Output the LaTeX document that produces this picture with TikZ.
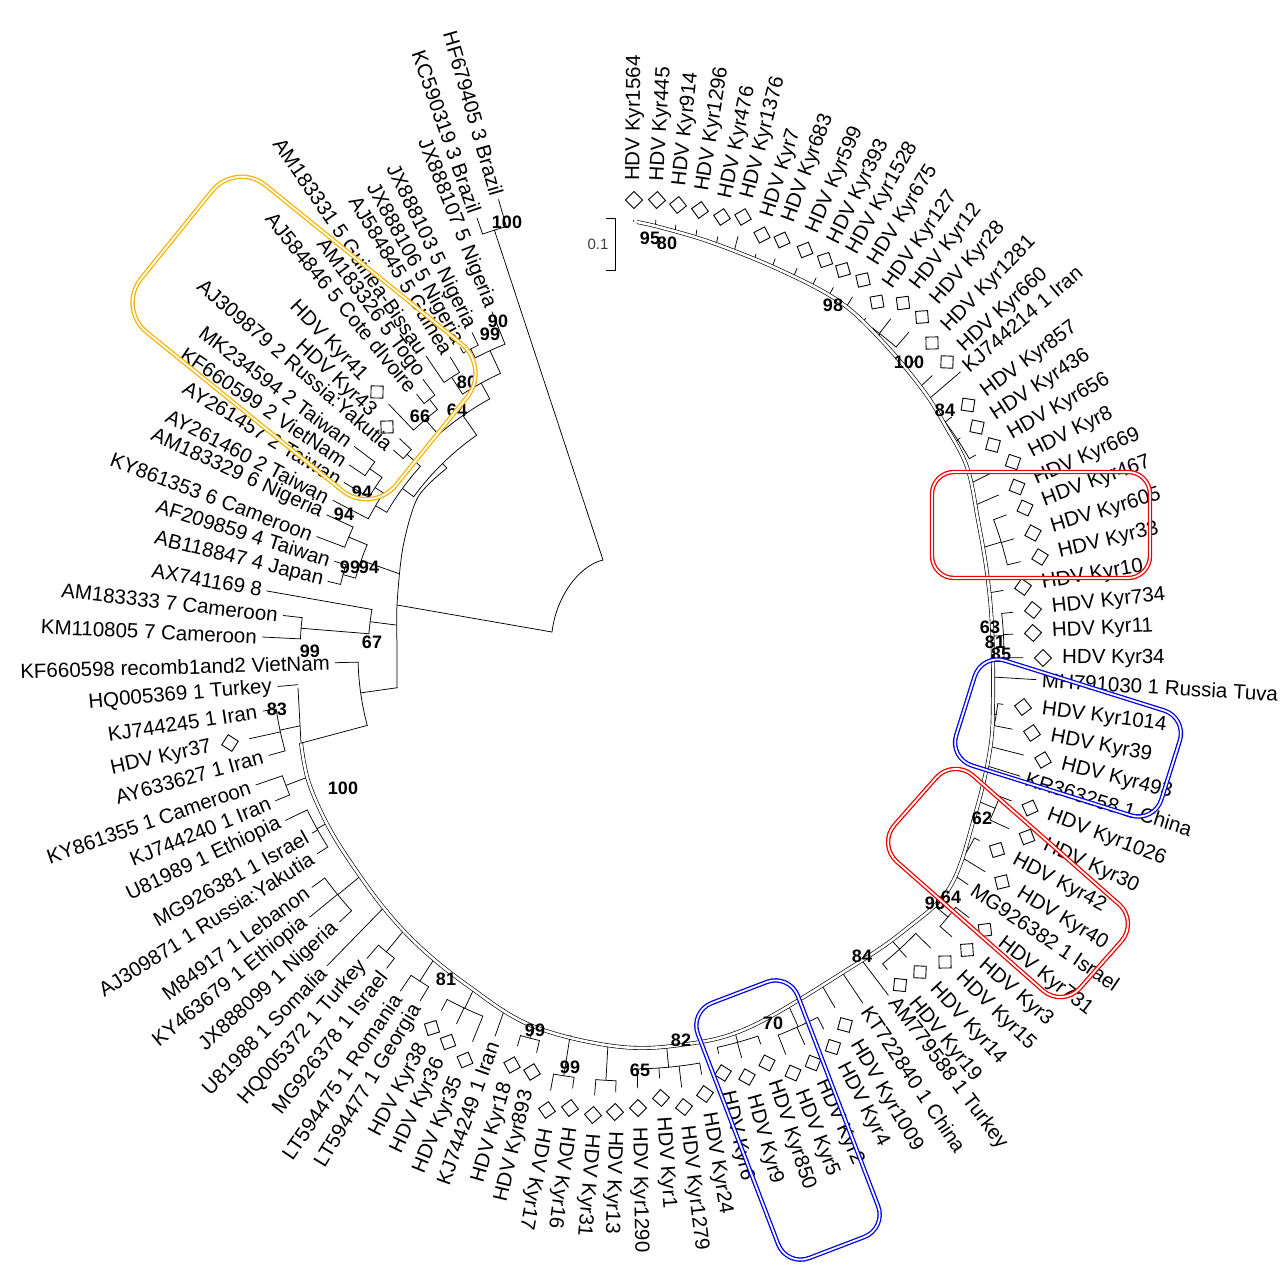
\documentclass[tikz,border=0pt]{standalone}
\usepackage{fontspec}
\setmainfont{Liberation Sans}
\usetikzlibrary{calc,intersections}
\definecolor{boxyellow}{RGB}{244,180,0}
\definecolor{boxred}{RGB}{238,0,0}
\definecolor{boxblue}{RGB}{0,0,230}
\newcounter{lc}
\newcommand\placeLabel[3]{%
  \pgfmathsetmacro\side{(#1>-101.5)&&(#1<95)}%
  \ifdim\side pt>0.5pt
    \node[lbl,anchor=west,rotate=#1] (n\thelc) at ($(C)+(#1:#2 pt)$) {#3};%
  \else
    \pgfmathsetmacro\rot{#1-180}%
    \node[lbl,anchor=east,rotate=\rot] (n\thelc) at ($(C)+(#1:#2 pt)$) {#3};%
  \fi}
\newcommand\keepleaf{%
  \expandafter\xdef\csname la\thelc\endcsname{\ang}%
  \expandafter\xdef\csname lt\thelc\endcsname{\rt}}
\newcommand\leafD[3]{%
  \stepcounter{lc}%
  \pgfmathsetmacro\dx{#1-630}\pgfmathsetmacro\dy{655-#2}%
  \pgfmathsetmacro\ang{atan2(\dy,\dx)}%
  \pgfmathsetmacro\rr{veclen(\dx,\dy)}%
  \pgfmathsetmacro\rl{\rr+19}\pgfmathsetmacro\rt{\rr-20}%
  \pgfmathsetmacro\dang{\ang+45}%
  \node[dia,rotate=\dang] (d\thelc) at (#1,#2) {};%
  \placeLabel{\ang}{\rl}{#3}%
  \keepleaf
  \coordinate (tp) at ($(C)+(\ang:\rt pt)$);}
\newcommand\leafT[3]{%
  \stepcounter{lc}%
  \pgfmathsetmacro\dx{#1-630}\pgfmathsetmacro\dy{655-#2}%
  \pgfmathsetmacro\ang{atan2(\dy,\dx)}%
  \pgfmathsetmacro\rr{veclen(\dx,\dy)}%
  \pgfmathsetmacro\rt{\rr-6}%
  \placeLabel{\ang}{\rr}{#3}%
  \keepleaf
  \coordinate (tp) at ($(C)+(\ang:\rt pt)$);}
\newcommand\stub{%
  \path[name path=ray] (C) -- ($(C)+(\ang:800pt)$);%
  \path[name intersections={of=ray and bbone, by={ip}}];%
  \draw[br] (tp) -- (ip);}
% group of genotype-1 leaves joined by an arc at radius #3
\newcommand\grp[3]{%
  \foreach \k in {#1,...,#2}{%
    \edef\ka{\csname la\k\endcsname}\edef\kt{\csname lt\k\endcsname}%
    \draw[br] ($(C)+(\ka:\kt pt)$) -- ($(C)+(\ka:#3 pt)$);}%
  \edef\aa{\csname la#1\endcsname}\edef\ab{\csname la#2\endcsname}%
  \draw[br] ($(C)+(\aa:#3 pt)$) arc[start angle=\aa, end angle=\ab, radius=#3 pt];%
  \pgfmathsetmacro\am{(\aa+\ab)/2}%
  \path[name path=ray] (C) -- ($(C)+(\am:800pt)$);%
  \path[name intersections={of=ray and bbone, by={ip}}];%
  \draw[br] ($(C)+(\am:#3 pt)$) -- (ip);}
\newcommand\parc[3]{\draw[br] ($(C)+(#2:#1 pt)$) arc[start angle=#2, end angle=#3, radius=#1 pt];}
\newcommand\prad[3]{\draw[br] ($(C)+(#1:#2 pt)$) -- ($(C)+(#1:#3 pt)$);}
\begin{document}
\begin{tikzpicture}[x=1pt,y=-1pt,
  br/.style={line width=0.75pt, line cap=round},
  lbl/.style={font=\fontsize{20.5}{20.5}\selectfont, inner sep=0pt},
  dia/.style={draw, line width=0.9pt, minimum size=12pt, inner sep=0pt},
  bs/.style={font=\bfseries\fontsize{18}{18}\selectfont, inner sep=0pt},
  hbox/.style={double=white, double distance=1.8pt, line width=1.3pt, inner sep=0pt},
  bbline/.style={line width=0.65pt, double=white, double distance=2.6pt}]
\useasboundingbox (0,0) rectangle (1286,1271);
\fill[white] (0,0) rectangle (1286,1271);
\coordinate (C) at (630,655);
\path[name path=bbone] (296,640) -- (298,688) -- (301,743) -- (308,780) -- (325,820) -- (347,857) -- (383,907) -- (420,947) -- (467,985) -- (530,1025) -- (613,1046) -- (680,1045) -- (750,1027) -- (850,968) -- (905,930) -- (950,887) -- (975,815) -- (990,750) -- (993,700) -- (992,627) -- (987,573) -- (978,520) -- (967,467) -- (945,425) -- (923,390) -- (883,342) -- (840,302) -- (780,270) -- (713,243) -- (663,228) -- (637,222) -- (600,218);
% ---- genotype 1 leaves
\leafD{634}{200}{HDV Kyr1564}\stub
\leafD{657}{200}{HDV Kyr445}\stub
\leafD{678}{205}{HDV Kyr914}\stub
\leafD{700}{210}{HDV Kyr1296}\stub
\leafD{722}{217}{HDV Kyr476}\stub
\leafD{743}{217}{HDV Kyr1376}\stub
\leafD{762}{235}{HDV Kyr7}\stub
\leafD{782}{240}{HDV Kyr683}\stub
\leafD{805}{250}{HDV Kyr599}\stub
\leafD{825}{260}{HDV Kyr393}\stub
\leafD{843}{270}{HDV Kyr1528}\stub
\leafD{863}{280}{HDV Kyr675}\stub
\leafD{877}{302}{HDV Kyr127}
\leafD{903}{303}{HDV Kyr12}
\leafD{922}{317}{HDV Kyr28}
\leafD{932}{343}{HDV Kyr1281}\stub
\leafD{947}{362}{HDV Kyr660}\stub
\leafT{965}{368}{KJ744214 1 Iran}\stub
\leafD{968}{405}{HDV Kyr857}
\leafD{977}{427}{HDV Kyr436}
\leafD{993}{445}{HDV Kyr656}
\leafD{1013}{462}{HDV Kyr8}\stub
\leafD{1017}{487}{HDV Kyr669}\stub
\leafD{1025}{508}{HDV Kyr467}
\leafD{1033}{533}{HDV Kyr605}
\leafD{1040}{557}{HDV Kyr33}
\leafD{1023}{587}{HDV Kyr10}\stub
\leafD{1033}{610}{HDV Kyr734}
\leafD{1033}{633}{HDV Kyr11}
\leafD{1043}{658}{HDV Kyr34}
\leafT{1042}{680}{MH791030 1 Russia Tuva}\stub
\leafD{1023}{707}{HDV Kyr1014}
\leafD{1032}{733}{HDV Kyr39}
\leafD{1043}{760}{HDV Kyr493}\stub
\leafT{1026}{778}{KR363258 1 China}\stub
\leafD{1030}{808}{HDV Kyr1026}
\leafD{1027}{837}{HDV Kyr30}
\leafD{997}{850}{HDV Kyr42}
\leafD{1002}{882}{HDV Kyr40}
\leafT{973}{888}{MG926382 1 Israel}\stub
\leafD{985}{930}{HDV Kyr731}
\leafD{967}{950}{HDV Kyr3}
\leafD{945}{962}{HDV Kyr15}
\leafD{920}{972}{HDV Kyr14}
\leafD{900}{985}{HDV Kyr19}
\leafT{892}{1000}{AM779588 1 Turkey}\stub
\leafT{866}{1008}{KT722840 1 China}\stub
\leafD{845}{1025}{HDV Kyr1009}\stub
\leafD{833}{1047}{HDV Kyr4}
\leafD{813}{1063}{HDV Kyr2}
\leafD{793}{1073}{HDV Kyr5}
\leafD{767}{1063}{HDV Kyr850}
\leafD{747}{1077}{HDV Kyr9}
\leafD{723}{1073}{HDV Kyr6}
\leafD{705}{1094}{HDV Kyr24}
\leafD{684}{1107}{HDV Kyr1279}
\leafD{661}{1098}{HDV Kyr1}
\leafD{638}{1108}{HDV Kyr1290}
\leafD{615}{1112}{HDV Kyr13}
\leafD{593}{1115}{HDV Kyr31}
\leafD{570}{1108}{HDV Kyr16}
\leafD{547}{1110}{HDV Kyr17}
\leafD{532}{1072}{HDV Kyr893}
\leafD{512}{1065}{HDV Kyr18}
\leafT{493}{1042}{KJ744249 1 Iran}\stub
\leafD{465}{1060}{HDV Kyr35}
\leafD{448}{1042}{HDV Kyr36}
\leafD{432}{1028}{HDV Kyr38}
\leafT{417}{1006}{LT594477 1 Georgia}
\leafT{397}{996}{LT594475 1 Romania}
\leafT{383}{973}{MG926378 1 Israel}
\leafT{363}{963}{HQ005372 1 Turkey}
\leafT{323}{970}{U81988 1 Somalia}\stub
\leafT{335}{926}{JX888099 1 Nigeria}
\leafT{305}{921}{KY463679 1 Ethiopia}
\leafT{307}{891}{M84917 1 Lebanon}
\leafT{312}{857}{AJ309871 1 Russia:Yakutia}
\leafT{307}{836}{MG926381 1 Israel}
\leafT{280}{823}{U81989 1 Ethiopia}
\leafT{270}{803}{KJ744240 1 Iran}
\leafT{250}{787}{KY861355 1 Cameroon}
\leafT{263}{757}{AY633627 1 Iran}
\leafD{230}{743}{HDV Kyr37}
\leafT{257}{712}{KJ744245 1 Iran}
\leafT{272}{687}{HQ005369 1 Turkey}\stub
% brackets inside genotype 1
\grp{13}{15}{407}
\grp{19}{21}{392}
\grp{24}{26}{388}
\grp{28}{30}{374}
\grp{32}{33}{371}
\grp{36}{37}{396}
\grp{38}{39}{390}
\grp{41}{42}{412}
\grp{43}{45}{399}
\grp{49}{51}{408}
\grp{52}{54}{402}
\grp{55}{58}{414}
\grp{59}{60}{426}
\grp{61}{62}{426}
\grp{63}{64}{396}
\grp{66}{68}{390}
\grp{69}{70}{388}
\grp{71}{72}{384}
\grp{74}{76}{378}
\grp{77}{79}{358}
\grp{80}{81}{368}
\grp{82}{84}{358}
% ---- other genotypes
\leafT{330}{663}{KF660598 recomb1and2 VietNam}
\leafT{257}{637}{KM110805 7 Cameroon}
\leafT{278}{615}{AM183333 7 Cameroon}
\leafT{262}{590}{AX741169 8}
\leafT{323}{580}{AB118847 4 Japan}
\leafT{330}{560}{AF209859 4 Taiwan}
\leafT{312}{535}{KY861353 6 Cameroon}
\leafT{322}{513}{AM183329 6 Nigeria}
\leafT{328}{498}{AY261460 2 Taiwan}
\leafT{340}{480}{AY261457 2 Taiwan}
\leafT{345}{462}{KF660599 2 VietNam}
\leafT{350}{443}{MK234594 2 Taiwan}
\leafT{390}{447}{AJ309879 2 Russia:Yakutia}
\leafD{387}{427}{HDV Kyr43}
\leafD{377}{392}{HDV Kyr41}
\leafT{413}{390}{AJ584846 5 Cote dIvoire}
\leafT{420}{375}{AM183326 5 Togo}
\leafT{423}{352}{AM183331 5 Guinea-Bissau}
\leafT{448}{353}{AJ584845 5 Guinea}
\leafT{458}{343}{JX888106 5 Nigeria}
\leafT{470}{328}{JX888103 5 Nigeria}
\leafT{490}{307}{JX888107 5 Nigeria}
\leafT{475}{213}{KC590319 3 Brazil}
\leafT{497}{195}{HF679405 3 Brazil}
% ---- backbone of genotype 1
\draw[br] (298,688) -- (301,743);
\draw[bbline] plot[smooth, tension=0.6] coordinates {(301,743) (308,780) (325,820) (347,857) (383,907) (420,947) (467,985) (530,1025) (613,1046) (680,1045) (750,1027) (850,968) (905,930) (950,887) (975,815) (990,750) (993,700) (992,627) (987,573) (978,520) (967,467) (945,425) (923,390) (883,342) (840,302) (780,270) (713,243) (663,228) (637,222)};
% ---- root and left clades
\draw[br] (603,560) .. controls (578,566) and (556,598) .. (552,632);
\draw[br] (603,560) -- ($(C)+(107.7:446pt)$);
\draw[br] (552,632) -- (397,605);
\parc{446}{106.1}{109.3}
\prad{106.1}{446}{474}
\prad{109.3}{446}{463}
\draw[br] plot[smooth] coordinates {(447,468) (418,497) (403,547) (397,605) (397,650) (397,688)};
\prad{134.4}{262}{268}
\parc{268}{124.9}{143.8}
\prad{124.9}{268}{292}
\prad{143.8}{268}{282}
\parc{292}{118.7}{131}
\prad{118.7}{292}{310}
\prad{131}{292}{312}
\parc{310}{114.7}{122.7}
\prad{114.7}{310}{335}
\prad{122.7}{310}{330}
\parc{335}{111.9}{117.5}
\prad{111.9}{335}{370}
\prad{117.5}{335}{345}
\parc{345}{116.1}{118.9}
\prad{116.1}{345}{359}
\prad{118.9}{345}{351}
\parc{330}{121.1}{124.3}
\prad{121.1}{330}{348}
\prad{124.3}{330}{362}
\parc{312}{128.1}{133.9}
\prad{128.1}{312}{325}
\prad{133.9}{312}{348}
\parc{325}{126.9}{129.3}
\prad{126.9}{325}{345}
\prad{129.3}{325}{337}
\parc{282}{138}{149.6}
\prad{138}{282}{300}
\prad{149.6}{282}{295}
\parc{300}{136.8}{139.1}
\prad{136.8}{300}{316}
\prad{139.1}{300}{313}
\parc{295}{146.7}{152.5}
\prad{146.7}{295}{305}
\prad{152.5}{295}{335}
\parc{305}{144.4}{148.9}
\prad{144.4}{305}{320}
\prad{148.9}{305}{334}
\parc{320}{142.9}{145.9}
\prad{142.9}{320}{346}
\prad{145.9}{320}{339}
\prad{160.6}{245}{285}
\parc{285}{157.25}{164.35}
\prad{157.25}{285}{305}
\prad{164.35}{285}{298}
\parc{305}{155.2}{159.3}
\prad{155.2}{305}{334}
\prad{159.3}{305}{335}
\parc{298}{162.4}{166.3}
\prad{162.4}{298}{310}
\prad{166.3}{298}{311}
\prad{172.7}{236}{262}
\parc{262}{170}{175.35}
\prad{170}{262}{369}
\prad{175.35}{262}{330}
\parc{330}{173.5}{177.2}
\prad{173.5}{330}{349}
\prad{177.2}{330}{368}
\prad{188}{235}{272}
\parc{272}{181.5}{195}
\prad{181.5}{272}{295}
\prad{195}{272}{341}
% ---- bootstrap values
\node[bs] (b1) at (507,222) {100};
\node[bs] (b2) at (650,238) {95};
\node[bs] (b3) at (667,243) {80};
\node[bs] (b4) at (833,305) {98};
\node[bs] (b5) at (909,362) {100};
\node[bs] (b6) at (945,410) {84};
\node[bs] (b7) at (990,627) {63};
\node[bs] (b8) at (995,642) {81};
\node[bs] (b9) at (1001,654) {85};
\node[bs] (b10) at (982,818) {62};
\node[bs] (b11) at (935,903) {96};
\node[bs] (b12) at (951,897) {64};
\node[bs] (b13) at (862,956) {84};
\node[bs] (b14) at (773,1023) {70};
\node[bs] (b15) at (681,1040) {82};
\node[bs] (b16) at (640,1070) {65};
\node[bs] (b17) at (570,1067) {99};
\node[bs] (b18) at (535,1030) {99};
\node[bs] (b19) at (446,979) {81};
\node[bs] (b20) at (343,788) {100};
\node[bs] (b21) at (277,709) {83};
\node[bs] (b22) at (310,651) {99};
\node[bs] (b23) at (372,642) {67};
\node[bs] (b24) at (350,567) {99};
\node[bs] (b25) at (369,567) {94};
\node[bs] (b26) at (362,492) {94};
\node[bs] (b27) at (344,514) {94};
\node[bs] (b28) at (420,416) {66};
\node[bs] (b29) at (457,410) {64};
\node[bs] (b30) at (467,382) {80};
\node[bs] (b31) at (498,321) {90};
\node[bs] (b32) at (490,334) {99};
% ---- scale bar
\draw[line width=0.9pt] (606,218) -- (615,218) -- (615,270) -- (606,270);
\node[font=\fontsize{15}{15}\selectfont, text=black!75, inner sep=0pt] (scale) at (598,244) {0.1};
% ---- highlight boxes
\node[hbox, draw=boxyellow, rounded corners=38pt, minimum width=328pt, minimum height=189pt, rotate=-39] (yellowbox) at (304,338) {};
\node[hbox, draw=boxred, rounded corners=22pt, minimum width=218pt, minimum height=106pt] (redbox1) at (1041,525) {};
\node[hbox, draw=boxblue, rounded corners=24pt, minimum width=215pt, minimum height=110pt, rotate=-17.4] (bluebox1) at (1068,738) {};
\node[hbox, draw=boxred, rounded corners=26pt, minimum width=247pt, minimum height=115pt, rotate=-41.4] (redbox2) at (1008,883) {};
\node[hbox, draw=boxblue, rounded corners=24pt, minimum width=107pt, minimum height=273pt, rotate=20.9] (bluebox2) at (788,1120) {};
\end{tikzpicture}
\end{document}
